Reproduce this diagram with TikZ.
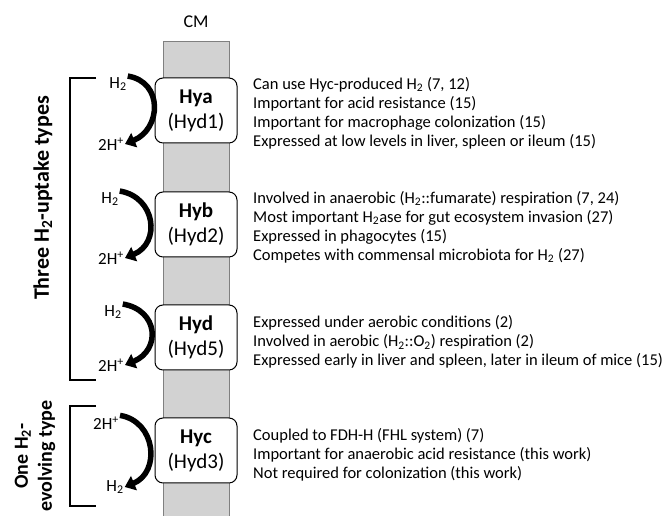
\documentclass[tikz,border=0pt]{standalone}
\usepackage{fontspec}
\setmainfont{Carlito}
\usetikzlibrary{arrows.meta, positioning}

\tikzset{
  enzyme/.style={draw, rounded corners=8pt, fill=white, line width=1pt,
    minimum width=82pt, minimum height=65pt, align=center, inner sep=0pt,
    font=\fontsize{21}{25}\selectfont},
  gas/.style={font=\fontsize{17}{20}\selectfont, inner sep=1pt},
  flow/.style={line width=5.5pt, -{Triangle[length=10pt,width=15pt]}},
  facts/.style={anchor=west, align=left, inner sep=0pt,
    font=\fontsize{16.5}{19}\selectfont},
  bracket/.style={line width=1.4pt},
  group/.style={rotate=90, align=center, inner sep=0pt}
}
\newcommand{\hh}{H\textsubscript{2}}
\newcommand{\hp}{2H\textsuperscript{+}}

\begin{document}
\begin{tikzpicture}[x=1pt, y=1pt]
\useasboundingbox (0,0) rectangle (665,516);
% cytoplasmic membrane
\draw[gray, fill=gray!35] (163.5,475) rectangle (229,-2);
\node[font=\fontsize{18}{20}\selectfont] (cm) at (196,494) {CM};

% hydrogenases
\node[enzyme] (hya) at (196,405.5) {\textbf{Hya}\\(Hyd1)};
\node[enzyme] (hyb) at (196,291.5) {\textbf{Hyb}\\(Hyd2)};
\node[enzyme] (hyd) at (196,178.5) {\textbf{Hyd}\\(Hyd5)};
\node[enzyme] (hyc) at (196,65.5) {\textbf{Hyc}\\(Hyd3)};

% substrates and products
\node[gas] (hya-in) at (118,432) {\hh};
\node[gas] (hya-out) at (111,372) {\hp};
\node[gas] (hyb-in) at (110,317) {\hh};
\node[gas] (hyb-out) at (111,258) {\hp};
\node[gas] (hyd-in) at (113,204) {\hh};
\node[gas] (hyd-out) at (111,151) {\hp};
\node[gas] (hyc-in) at (106,93) {\hp};
\node[gas] (hyc-out) at (115,29) {\hh};

\draw[flow] (hya-in.north east) .. controls +(36,-6) and +(36,15) .. (hya-out.east);
\draw[flow] (hyb-in.north east) .. controls +(36,-6) and +(36,15) .. (hyb-out.east);
\draw[flow] (hyd-in.north east) .. controls +(36,-6) and +(36,15) .. (hyd-out.east);
\draw[flow] (hyc-in.north east) .. controls +(36,-6) and +(36,15) .. (hyc-out.east);

% properties
\node[facts] (hya-txt) at (253,403) {Can use Hyc-produced \hh{} (7, 12)\\
  Important for acid resistance (15)\\
  Important for macrophage colonization (15)\\
  Expressed at low levels in liver, spleen or ileum (15)};
\node[facts] (hyb-txt) at (253,289) {Involved in anaerobic (\hh::fumarate) respiration (7, 24)\\
  Most important \hh ase for gut ecosystem invasion (27)\\
  Expressed in phagocytes (15)\\
  Competes with commensal microbiota for \hh{} (27)};
\node[facts] (hyd-txt) at (253,174) {Expressed under aerobic conditions (2)\\
  Involved in aerobic (\hh::O\textsubscript{2}) respiration (2)\\
  Expressed early in liver and spleen, later in ileum of mice (15)};
\node[facts] (hyc-txt) at (253,61) {Coupled to FDH-H (FHL system) (7)\\
  Important for anaerobic acid resistance (this work)\\
  Not required for colonization (this work)};

% groups
\coordinate (up-top) at (70,438);
\coordinate (up-bot) at (70,136);
\coordinate (lo-top) at (70,110);
\coordinate (lo-bot) at (70,10);
\draw[bracket] ([xshift=26pt]up-top) -- (up-top) -- (up-bot) -- ([xshift=26pt]up-bot);
\draw[bracket] ([xshift=26pt]lo-top) -- (lo-top) -- (lo-bot) -- ([xshift=26pt]lo-bot);
\node[group, font=\bfseries\fontsize{22}{26}\selectfont] (uptake) at (43,318) {Three \hh-uptake types};
\node[group, font=\bfseries\fontsize{20}{24}\selectfont] (evolving) at (35,60) {One \hh-\\evolving type};
\end{tikzpicture}
\end{document}
